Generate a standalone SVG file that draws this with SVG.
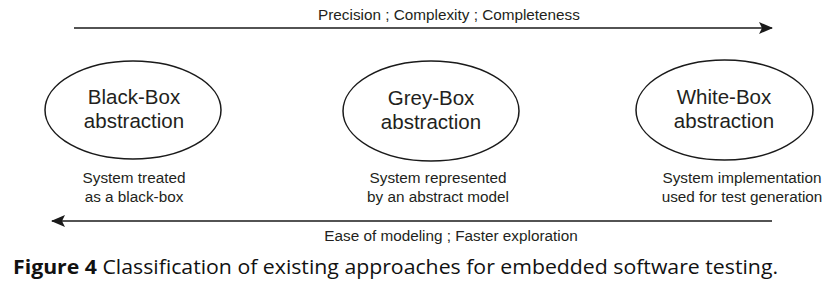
<svg xmlns="http://www.w3.org/2000/svg" width="837" height="289" viewBox="0 0 837 289">
<style>
.e{fill:none;stroke:#1a1a1a;stroke-width:1.5}
.t{font-family:"Liberation Sans",Arial,sans-serif;fill:#231f20;text-anchor:middle}
.big{font-size:20.5px}
.sm{font-size:15.3px}
.cap{font-family:"Open Sans","Liberation Sans",sans-serif;font-size:20px;fill:#111}
.ln{stroke:#1a1a1a;stroke-width:1.5;fill:none}
</style>
<defs>
<marker id="ah" markerWidth="14" markerHeight="12" refX="13" refY="6" orient="auto" markerUnits="userSpaceOnUse">
<path d="M0,0 L14,6 L0,12 L3,6 Z" fill="#1a1a1a"/>
</marker>
</defs>
<g id="connectors">
<line class="ln" x1="74" y1="28" x2="772" y2="28" marker-end="url(#ah)"/>
<text class="t sm" x="449" y="20">Precision ; Complexity ; Completeness</text>
<line class="ln" x1="772" y1="221" x2="52" y2="221" marker-end="url(#ah)"/>
<text class="t sm" x="451" y="241">Ease of modeling ; Faster exploration</text>
</g>
<g id="blackbox">
<ellipse class="e" cx="133" cy="110" rx="88" ry="49"/>
<text class="t big" x="134" y="104">Black-Box</text>
<text class="t big" x="134" y="128">abstraction</text>
<text class="t sm" x="134" y="183">System treated</text>
<text class="t sm" x="134" y="202">as a black-box</text>
</g>
<g id="greybox">
<ellipse class="e" cx="431" cy="111" rx="88" ry="50"/>
<text class="t big" x="431" y="105">Grey-Box</text>
<text class="t big" x="431" y="129">abstraction</text>
<text class="t sm" x="438" y="183">System represented</text>
<text class="t sm" x="438" y="202">by an abstract model</text>
</g>
<g id="whitebox">
<ellipse class="e" cx="724.5" cy="110" rx="88.5" ry="50"/>
<text class="t big" x="724" y="104">White-Box</text>
<text class="t big" x="724" y="128">abstraction</text>
<text class="t sm" x="742" y="183">System implementation</text>
<text class="t sm" x="742" y="202">used for test generation</text>
</g>
<text class="cap" x="13" y="274" textLength="765" lengthAdjust="spacingAndGlyphs"><tspan font-weight="bold">Figure 4</tspan>  Classification of existing approaches for embedded software testing.</text>
</svg>
